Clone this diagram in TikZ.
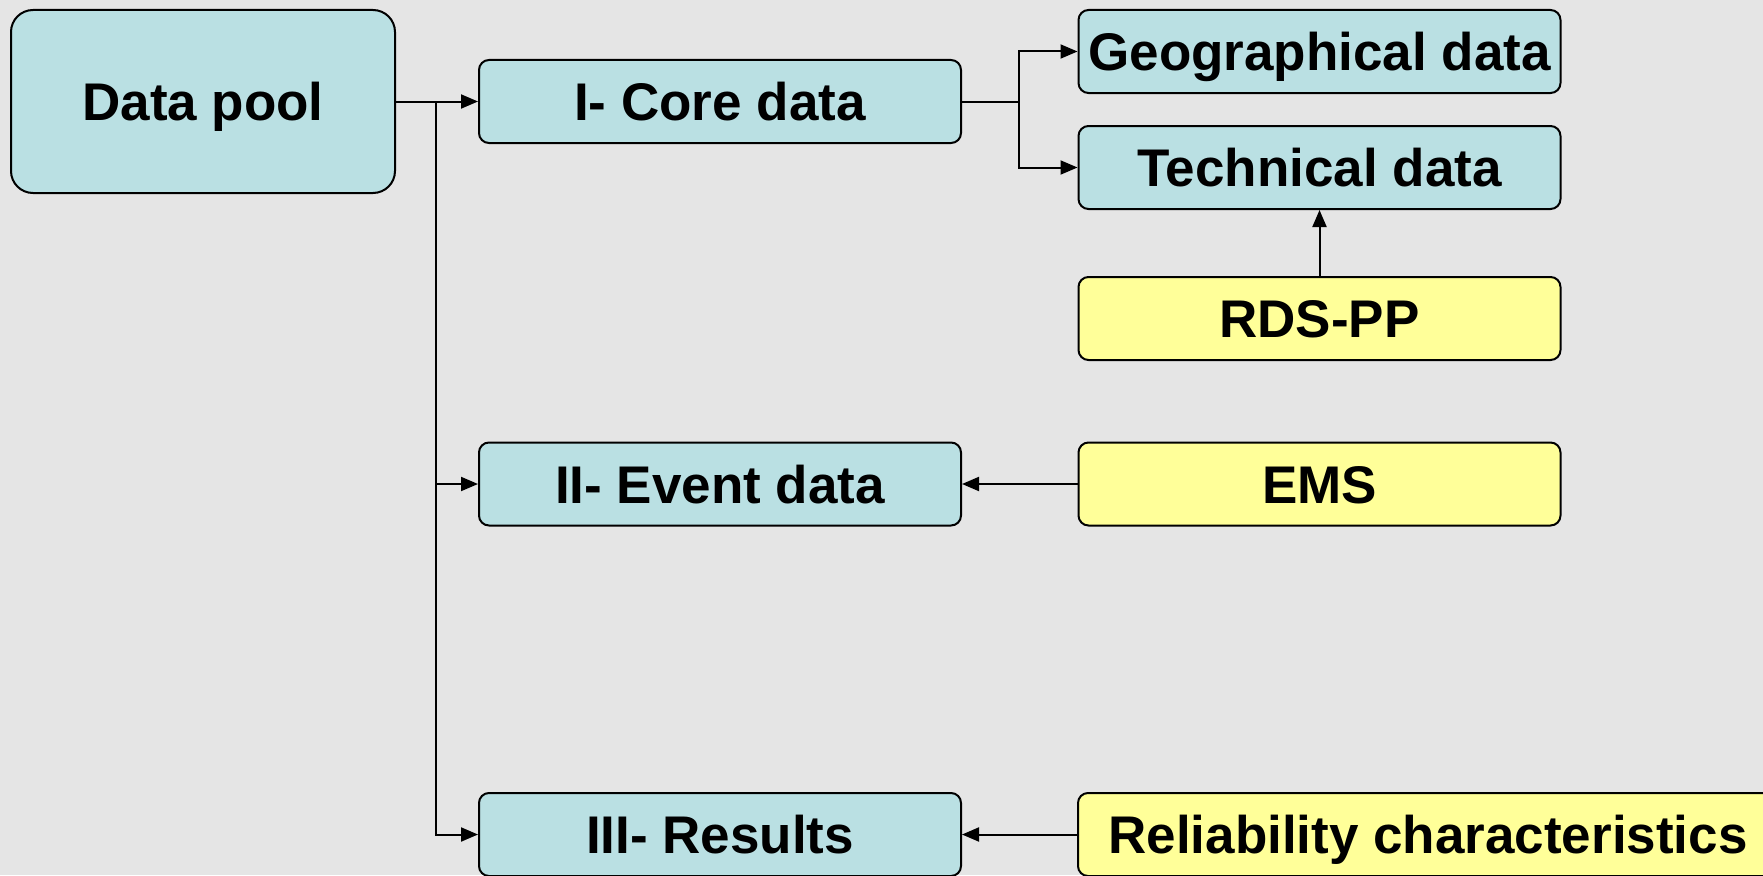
\documentclass[tikz,border=0pt]{standalone}
\usepackage{fontspec}
\setmainfont{Liberation Sans}
\usetikzlibrary{arrows.meta}
\definecolor{bg}{HTML}{E5E5E5}
\definecolor{bluefill}{HTML}{BAE0E3}
\definecolor{yellowfill}{HTML}{FFFF99}
\begin{document}
\begin{tikzpicture}[x=1pt,y=-1pt,
  boxbase/.style={draw=black, line width=2pt, rounded corners=10pt, inner sep=0pt,
     font=\fontsize{53}{62}\selectfont\bfseries, anchor=center,
     text height=38pt, text depth=0pt},
  bluebox/.style={boxbase, fill=bluefill, minimum width=482pt, minimum height=83pt},
  yellowbox/.style={boxbase, fill=yellowfill, minimum width=482pt, minimum height=83pt},
  conn/.style={line width=2pt, -{Triangle[length=17pt,width=14pt]}}]
\fill[bg] (0,0) rectangle (1763,875);
\useasboundingbox (0,0) rectangle (1763,875);
\clip (0,0) rectangle (1763,875);
\node[bluebox, rounded corners=22pt, minimum width=384pt, minimum height=183pt] (pool) at (203,101.5) {Data pool};
\node[bluebox] (core) at (720,101.5) {I- Core data};
\node[bluebox] (geo) at (1319.5,51.5) {Geographical data};
\node[bluebox] (tech) at (1319.5,167.5) {Technical data};
\node[yellowbox] (rds) at (1319.5,318.5) {RDS-PP};
\node[bluebox] (event) at (720,484) {II- Event data};
\node[yellowbox] (ems) at (1319.5,484) {EMS};
\node[bluebox] (res) at (720,834.5) {III- Results};
\node[yellowbox, minimum width=700pt] (rel) at (1428,834.5) {Reliability characteristics};
\coordinate (trunk) at (436,101.5);
\coordinate (split) at (1019,101.5);
\draw[conn] (pool.east) -- (core.west);
\draw[conn] (trunk) |- (event.west);
\draw[conn] (trunk) |- (res.west);
\draw[line width=2pt] (core.east) -- (split);
\draw[conn] (split) |- (geo.west);
\draw[conn] (split) |- (tech.west);
\draw[conn] (rds.north) -- (tech.south);
\draw[conn] (ems.west) -- (event.east);
\draw[conn] (rel.west) -- (res.east);
\end{tikzpicture}
\end{document}
